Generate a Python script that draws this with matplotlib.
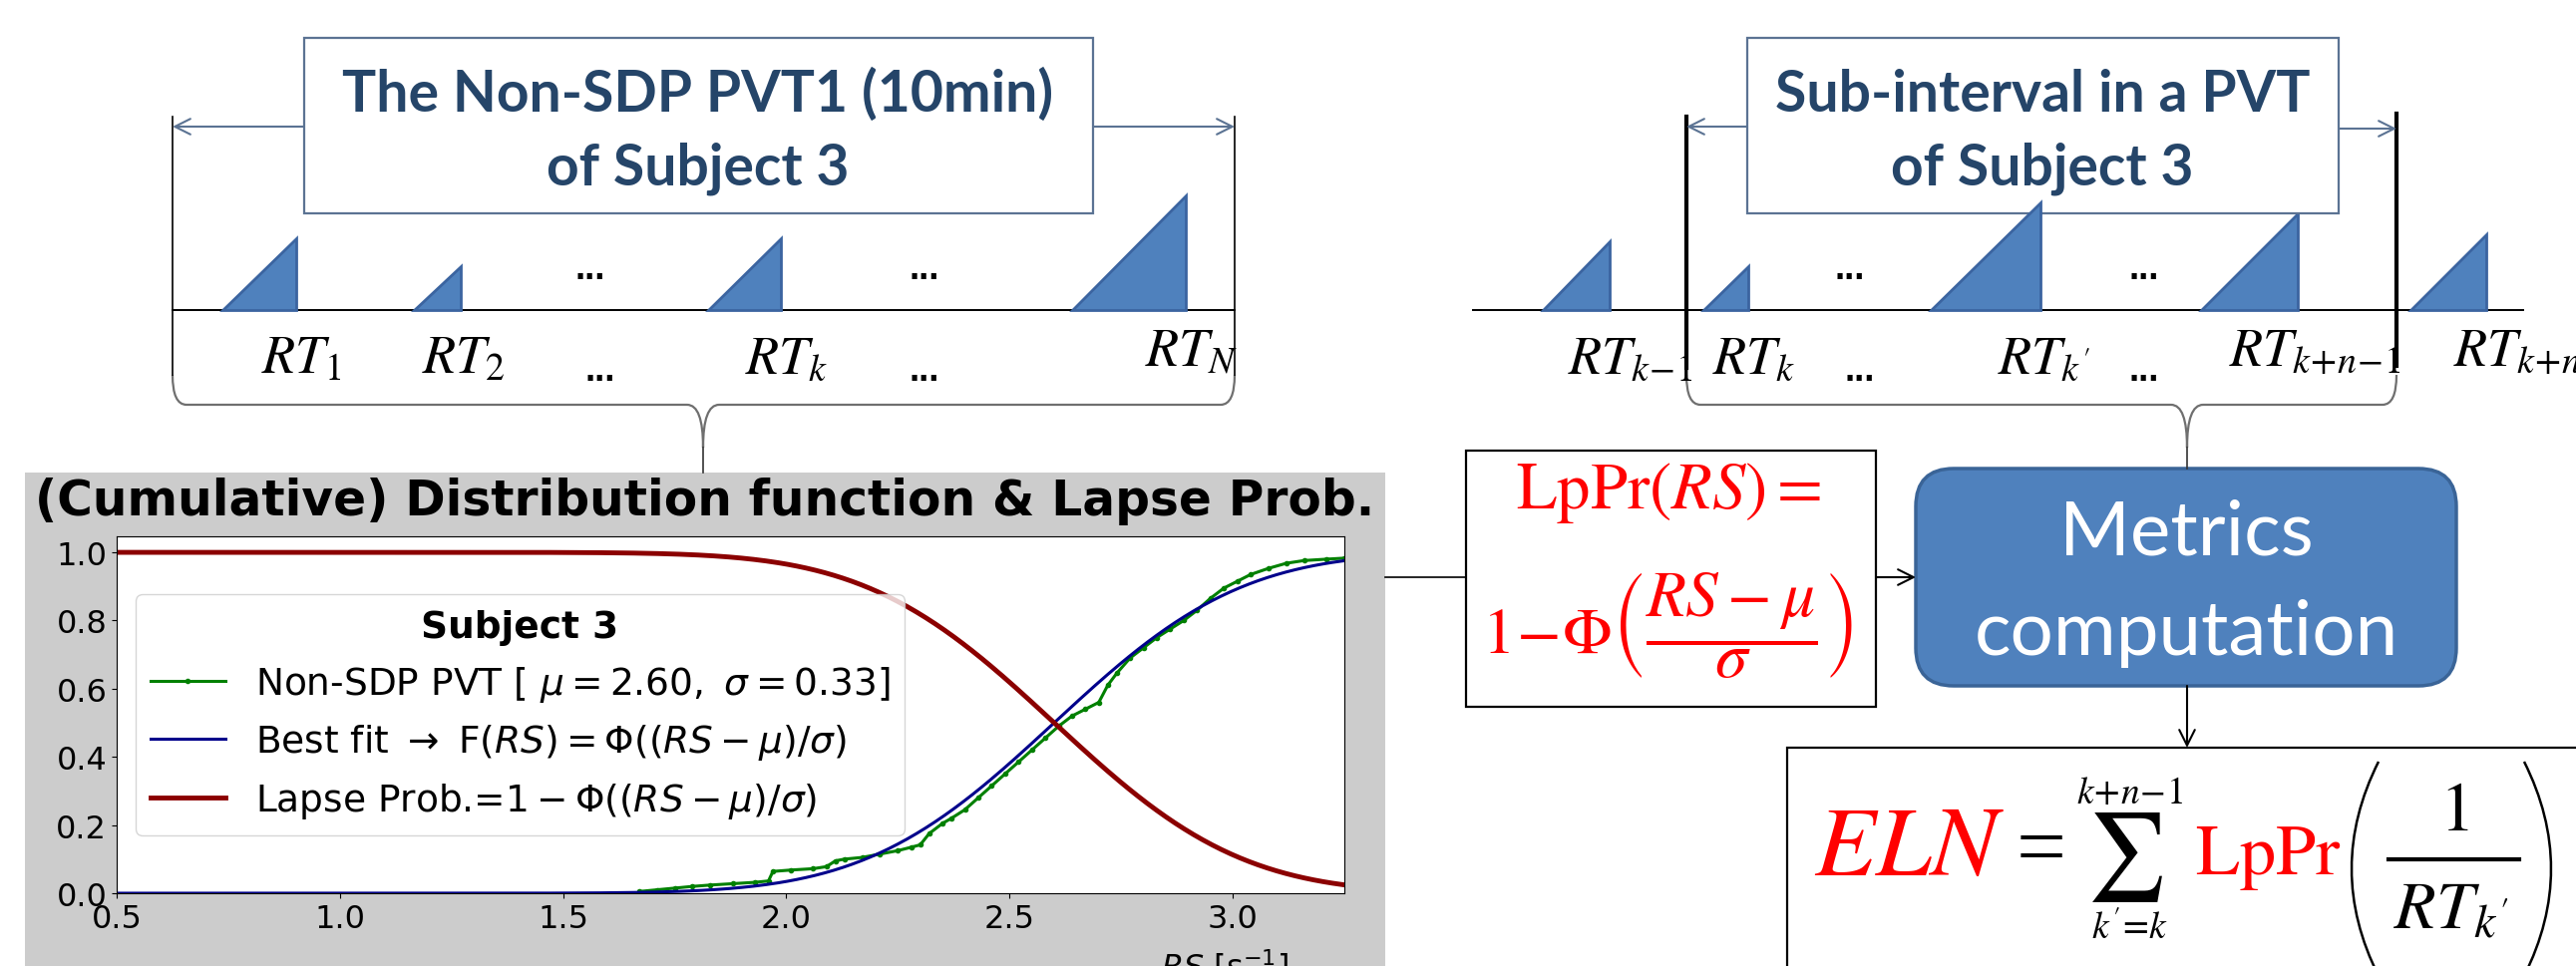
import math
import numpy as np
import matplotlib
matplotlib.use('Agg')
import matplotlib.pyplot as plt
from matplotlib.patches import Rectangle, Polygon, FancyBboxPatch, PathPatch
from matplotlib.path import Path

# ---- chart data ----
mu = 2.60
sigma = 0.33
rs_emp = [1.67, 1.71, 1.75, 1.79, 1.83, 1.88, 1.93, 1.96, 1.97, 2.01,
          2.06, 2.09, 2.11, 2.13, 2.17, 2.21, 2.25, 2.28, 2.30, 2.32,
          2.35, 2.37, 2.40, 2.43, 2.46, 2.49, 2.52, 2.55, 2.58, 2.61,
          2.64, 2.67, 2.70, 2.72, 2.74, 2.77, 2.80, 2.83, 2.86, 2.89,
          2.92, 2.95, 2.98, 3.01, 3.04, 3.08, 3.12, 3.16, 3.21, 3.25]
cdf_emp = [0.005, 0.01, 0.015, 0.02, 0.024, 0.028, 0.032, 0.036, 0.064, 0.068,
           0.072, 0.078, 0.095, 0.10, 0.105, 0.115, 0.125, 0.135, 0.142, 0.175,
           0.205, 0.22, 0.245, 0.28, 0.315, 0.35, 0.385, 0.42, 0.455, 0.49,
           0.52, 0.54, 0.56, 0.61, 0.645, 0.69, 0.72, 0.75, 0.775, 0.80,
           0.83, 0.865, 0.895, 0.915, 0.935, 0.953, 0.968, 0.976, 0.98, 0.983]
x_ticks = [0.5, 1.0, 1.5, 2.0, 2.5, 3.0]
y_ticks = [0.0, 0.2, 0.4, 0.6, 0.8, 1.0]
chart_title = '(Cumulative) Distribution function & Lapse Prob.'
legend_title = 'Subject 3'
series_labels = [r'Non-SDP PVT [ $\mu=2.60,\ \sigma=0.33$]',
                 r'Best fit $\rightarrow$ F($RS$)$=\Phi((RS-\mu)/\sigma)$',
                 r'Lapse Prob.=$1-\Phi((RS-\mu)/\sigma)$']
x_label = r'$RS$ [s$^{-1}$]'

# ---- diagram texts ----
left_box_lines = ['The Non-SDP PVT1 (10min)', 'of Subject 3']
right_box_lines = ['Sub-interval in a PVT', 'of Subject 3']
left_rt = [r'$RT_1$', r'$RT_2$', r'$RT_k$', r'$RT_N$']
right_rt = [r'$RT_{k\!-\!1}$', r'$RT_k$', r"$RT_{k^{\prime}}$", r'$RT_{k\!+\!n\!-\!1}$', r'$RT_{k\!+\!n}$']
metrics_lines = ['Metrics', 'computation']

W, H = 2583, 970
fig = plt.figure(figsize=(W / 100, H / 100), dpi=100)
ax0 = fig.add_axes([0, 0, 1, 1])
ax0.set_xlim(0, W)
ax0.set_ylim(H, 0)
ax0.axis('off')

tri_face = '#4F81BD'
tri_edge = '#3B64A0'
box_edge = '#5B7393'
navy = '#254569'


def triangle(x0, x1, ytop, ybase=312, z=3):
    ax0.add_patch(Polygon([(x0, ybase), (x1, ybase), (x1, ytop)], closed=True,
                          fc=tri_face, ec=tri_edge, lw=2, zorder=z))


def brace(x0, x1, xc, yh, tip):
    verts = [(x0, yh - 30), (x0, yh), (x0 + 14, yh), (xc - 16, yh), (xc, yh), (xc, tip),
             (xc, yh), (xc + 16, yh), (x1 - 14, yh), (x1, yh), (x1, yh - 30)]
    codes = [Path.MOVETO, Path.CURVE3, Path.CURVE3, Path.LINETO, Path.CURVE3, Path.CURVE3,
             Path.CURVE3, Path.CURVE3, Path.LINETO, Path.CURVE3, Path.CURVE3]
    ax0.add_patch(PathPatch(Path(verts, codes), fc='none', ec='#6f6f6f', lw=1.6))


def paren(x_end, x_ctrl, y0, y1, lw=1.6, color='black'):
    verts = [(x_end, y0), (x_ctrl, (y0 + y1) / 2), (x_end, y1)]
    codes = [Path.MOVETO, Path.CURVE3, Path.CURVE3]
    ax0.add_patch(PathPatch(Path(verts, codes), fc='none', ec=color, lw=lw))


def arrow(x0, y0, x1, y1, color):
    ax0.annotate('', xy=(x1, y1), xytext=(x0, y0),
                 arrowprops=dict(arrowstyle='->', color=color, lw=1.5,
                                 mutation_scale=28, shrinkA=0, shrinkB=0))


def dots(x, y):
    ax0.text(x, y, '...', ha='center', va='baseline', fontsize=26,
             fontweight='bold', family='Liberation Sans')


def rt_label(x, y, s):
    ax0.text(x, y, s, ha='left', va='baseline', fontsize=39, math_fontfamily='stix')


def box_title(xc, lines):
    for yb, s in zip([112, 185], lines):
        ax0.text(xc, yb, s, ha='center', va='baseline', fontsize=41,
                 fontweight='bold', family='Lato', color=navy, zorder=5)


# ---- left top: whole PVT ----
ax0.plot([173, 1238], [312, 312], color='black', lw=1.4)
ax0.plot([173, 173], [118, 377], color='black', lw=1.2)
ax0.plot([1238, 1238], [118, 377], color='black', lw=1.2)
ax0.add_patch(Rectangle((305, 39), 1096 - 305, 215 - 39, fc='white', ec=box_edge, lw=1.6, zorder=4))
box_title(700, left_box_lines)
arrow(305, 128, 173, 128, box_edge)
arrow(1096, 128, 1238, 128, box_edge)
for x0, x1, yt in [(223, 297, 240), (415, 462, 268), (710, 783, 240), (1075, 1189, 197)]:
    triangle(x0, x1, yt)
dots(592, 280)
dots(927, 280)
rt_label(262, 375, left_rt[0])
rt_label(423, 375, left_rt[1])
dots(602, 382)
rt_label(747, 375, left_rt[2])
dots(927, 382)
rt_label(1148, 367, left_rt[3])
brace(173, 1238, 705, 407, 450)
ax0.plot([705, 705], [450, 475], color='#333333', lw=1.2)

# ---- right top: sub-interval ----
ax0.plot([1477, 2530], [312, 312], color='black', lw=1.4)
ax0.plot([1691, 1691], [118, 370], color='black', lw=3)
ax0.plot([2403, 2403], [115, 368], color='black', lw=3)
for x0, x1, yt in [(1547, 1614, 243), (1708, 1753, 268), (2207, 2304, 215), (2417, 2493, 236)]:
    triangle(x0, x1, yt)
ax0.add_patch(Rectangle((1752, 39), 2345 - 1752, 215 - 39, fc='white', ec=box_edge, lw=1.6, zorder=4))
triangle(1936, 2046, 204, z=6)
box_title(2048, right_box_lines)
arrow(1752, 128, 1691, 128, box_edge)
arrow(2345, 130, 2403, 130, box_edge)
dots(1855, 280)
dots(2150, 280)
rt_label(1572, 375, right_rt[0])
rt_label(1717, 375, right_rt[1])
dots(1865, 382)
rt_label(2003, 375, right_rt[2])
dots(2150, 382)
rt_label(2235, 367, right_rt[3])
rt_label(2460, 367, right_rt[4])
brace(1691, 2403, 2193, 407, 450)
ax0.plot([2193, 2193], [450, 471], color='#333333', lw=1.2)

# ---- lower right: formulas and metrics ----
ax0.add_patch(Rectangle((25, 475), 1389 - 25, H - 475 + 5, fc='#cccccc', ec='none'))
ax0.plot([1389, 1470], [580, 580], color='black', lw=1.2)
ax0.add_patch(Rectangle((1470, 453), 1881 - 1470, 710 - 453, fc='white', ec='black', lw=1.6))
ax0.text(1673, 510, r'$\mathrm{LpPr}(RS)=$', ha='center', va='baseline', fontsize=48,
         color='red', math_fontfamily='stix')
ax0.text(1672, 628, r'$1\!-\!\Phi\left(\dfrac{RS-\mu}{\sigma}\right)$', ha='center', va='center',
         fontsize=47, color='red', math_fontfamily='stix')
arrow(1881, 580, 1921, 580, 'black')
ax0.add_patch(FancyBboxPatch((1921, 471), 2463 - 1921, 689 - 471,
                             boxstyle='round,pad=0,rounding_size=38',
                             fc='#4F81BD', ec='#3A6497', lw=2.5))
ax0.text(2192, 557, metrics_lines[0], ha='center', va='baseline', fontsize=55,
         family='Lato', color='white')
ax0.text(2192, 657, metrics_lines[1], ha='center', va='baseline', fontsize=55,
         family='Lato', color='white')
arrow(2193, 689, 2193, 751, 'black')
ax0.add_patch(Rectangle((1792, 751), 900, 300, fc='white', ec='black', lw=1.6))
ax0.text(1819, 878, r'$ELN$', ha='left', va='baseline', fontsize=72, color='red',
         math_fontfamily='stix')
ax0.text(2022, 878, '=', ha='left', va='baseline', fontsize=64, family='Liberation Serif')
ax0.text(2133, 882, '\u2211', ha='center', va='baseline', fontsize=63, family='STIXGeneral')
ax0.text(2136, 806, r'$k\!+\!n\!-\!1$', ha='center', va='baseline', fontsize=27,
         math_fontfamily='stix')
ax0.text(2136, 942, r"$k^{\prime}\!=\!k$", ha='center', va='baseline', fontsize=27,
         math_fontfamily='stix')
ax0.text(2201, 877, r'$\mathrm{LpPr}$', ha='left', va='baseline', fontsize=52, color='red',
         math_fontfamily='stix')
paren(2385, 2331, 765, 980, lw=1.8)
paren(2531, 2585, 765, 980, lw=1.8)
ax0.text(2461, 833, r'$1$', ha='center', va='baseline', fontsize=50, math_fontfamily='stix')
ax0.plot([2395, 2526], [863, 863], color='black', lw=3)
ax0.text(2400, 932, r"$RT_{k^{\prime}}$", ha='left', va='baseline', fontsize=49,
         math_fontfamily='stix')

# ---- the chart ----
ax = fig.add_axes([117 / W, 1 - 897 / H, (1348 - 117) / W, (897 - 539) / H])
rs = np.linspace(0.5, 3.25, 400)
phi = np.array([0.5 * (1 + math.erf((v - mu) / (sigma * math.sqrt(2)))) for v in rs])
ax.plot(rs_emp, cdf_emp, color='green', lw=2.2, marker='.', markersize=6, label=series_labels[0])
ax.plot(rs, phi, color='darkblue', lw=2.2, label=series_labels[1])
ax.plot(rs, 1 - phi, color='darkred', lw=3.5, label=series_labels[2])
ax.set_xlim(0.5, 3.25)
ax.set_ylim(0, 1.047)
ax.set_xticks(x_ticks)
ax.set_yticks(y_ticks)
ax.tick_params(labelsize=23)
ax.set_xlabel(x_label, fontsize=23)
ax.xaxis.set_label_coords((1228 - 117) / (1348 - 117), -(950 - 897) / (897 - 539))
ax.legend(loc='center left', title=legend_title, fontsize=27,
          title_fontproperties={'weight': 'bold', 'size': 27})
fig.text(707 / W, 1 - 503 / H, chart_title, ha='center', va='center', fontsize=35,
         fontweight='bold')

fig.savefig('out.png', dpi=100)
